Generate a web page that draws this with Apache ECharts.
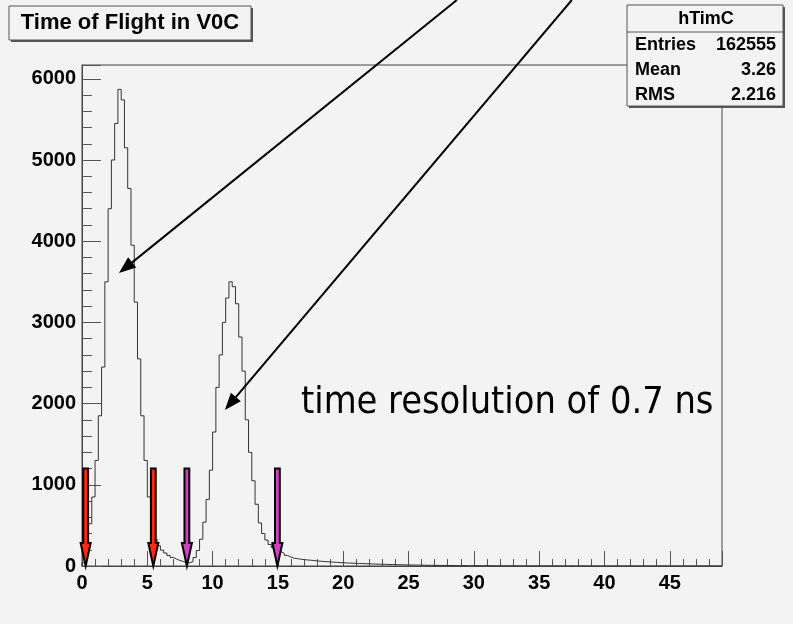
<!DOCTYPE html>
<html><head><meta charset="utf-8">
<script src="https://cdn.jsdelivr.net/npm/echarts@6/dist/echarts.min.js"></script>
<style>html,body{margin:0;padding:0;background:#f3f3f3}#c{width:793px;height:624px}</style>
</head><body><div id="c"></div>
<script>
// ---- data ----
const binWidth = 0.25;      // ns per bin, histogram starts at 0
const countsPeak1 = [      // 0 - 10 ns
  40, 200, 520, 850, 1300, 1850, 2450, 3500, 4400, 5000,
  5450, 5870, 5740, 5150, 4650, 3950, 3250, 2550, 1850, 1300,
  850, 500, 330, 250, 195, 160, 130, 105, 85, 68,
  55, 45, 40, 55, 105, 190, 330, 540, 820, 1180
];
const countsPeak2 = [      // 10 - 20 ns
  1650, 2200, 2600, 3000, 3300, 3500, 3440, 3230, 2820, 2400,
  1800, 1400, 1050, 760, 530, 400, 320, 265, 225, 200,
  175, 155, 130, 110, 96, 90, 84, 79, 75, 71,
  67, 63, 59, 56, 53, 50, 47, 45, 42, 40
];
const countsTail = [       // 20 - 35 ns
  38, 36, 35, 33, 31, 30, 28, 27, 25, 24, 22, 21, 20, 19, 18, 17, 16, 15, 14, 13,
  12, 12, 11, 10, 10, 9, 9, 8, 8, 7, 7, 6, 6, 6, 5, 5, 5, 4, 4, 4,
  4, 3, 3, 3, 3, 3, 2, 2, 2, 2, 2, 2, 2, 1, 1, 1, 1, 1, 1, 1
];
const countsFar = [        // 35 - 49 ns
  1, 1, 1, 1, 1, 1, 0, 1, 0, 1, 0, 0, 1, 0, 0, 0, 1, 0, 0, 0,
  0, 0, 0, 0, 0, 0, 0, 0, 0, 0, 0, 0, 0, 0, 0, 0, 0, 0, 0, 0,
  0, 0, 0, 0, 0, 0, 0, 0, 0, 0, 0, 0, 0, 0, 0, 0
];
const xMin = 0, xMax = 49, yMin = 0, yMax = 6170;
const redArrowX = [0.28, 5.46];
const magentaArrowX = [8.03, 14.96];
const colouredArrowTop = 1200;
const pointerFrom = [[28.7, 6970], [37.5, 6970]];
const pointerTo = [[2.83, 3608], [10.94, 1921]];
const histTitle = 'Time of Flight in V0C';
const statsName = 'hTimC';
const statsLabels = ['Entries', 'Mean', 'RMS'];
const statsValues = ['162555', '3.26', '2.216'];
const noteText = 'time resolution of 0.7 ns';

// ---- build ----
const counts = countsPeak1.concat(countsPeak2, countsTail, countsFar);
const histData = [[0, 0]];
counts.forEach((c, i) => histData.push([i * binWidth, c]));
histData.push([counts.length * binWidth, counts[counts.length - 1]]);
histData.push([counts.length * binWidth, 0]);

const labelFont = {fontFamily: 'Liberation Sans, Arial, sans-serif', fontWeight: 'bold', fontSize: 20, color: '#000'};

function renderFatArrow(params, api) {
  const top = api.coord([api.value(0), api.value(1)]);
  const tip = api.coord([api.value(0), 0]);
  const x = tip[0], hw = 2.4, hh = 5, hl = 23;
  return {
    type: 'polygon',
    shape: {points: [[x - hw, top[1]], [x + hw, top[1]], [x + hw, tip[1] - hl], [x + hh, tip[1] - hl],
                     [x, tip[1]], [x - hh, tip[1] - hl], [x - hw, tip[1] - hl]]},
    style: {fill: api.visual('color'), stroke: '#000', lineWidth: 2, lineJoin: 'miter'}
  };
}
function renderPointer(params, api) {
  const a = api.coord([api.value(0), api.value(1)]);
  const b = api.coord([api.value(2), api.value(3)]);
  const ang = Math.atan2(b[1] - a[1], b[0] - a[0]);
  const L = 17, W = 6.5;
  const bx = b[0] - L * Math.cos(ang), by = b[1] - L * Math.sin(ang);
  const px = -Math.sin(ang), py = Math.cos(ang);
  return {type: 'group', children: [
    {type: 'line', shape: {x1: a[0], y1: a[1], x2: bx + 2 * Math.cos(ang), y2: by + 2 * Math.sin(ang)}, style: {stroke: '#000', lineWidth: 2}},
    {type: 'polygon', shape: {points: [[b[0], b[1]], [bx + px * W, by + py * W], [bx - px * W, by - py * W]]}, style: {fill: '#000'}}
  ]};
}

const chart = echarts.init(document.getElementById('c'), null, {renderer: 'canvas'});
chart.setOption({
  animation: false,
  backgroundColor: '#f3f3f3',
  grid: {left: 82, right: 71, top: 65, bottom: 58, show: true, borderColor: '#444', borderWidth: 1, backgroundColor: 'transparent', outerBoundsMode: 'none', containLabel: false},
  xAxis: {
    type: 'value', min: xMin, max: xMax, interval: 5,
    axisLine: {show: true, lineStyle: {color: '#444', width: 1}},
    axisTick: {show: true, inside: true, length: 15, lineStyle: {color: '#555'}},
    minorTick: {show: true, splitNumber: 5, length: 7, lineStyle: {color: '#555'}},
    splitLine: {show: false}, minorSplitLine: {show: false},
    axisLabel: Object.assign({margin: 7, showMaxLabel: false, formatter: v => (v % 5 === 0 ? String(v) : '')}, labelFont)
  },
  yAxis: {
    type: 'value', min: yMin, max: yMax, interval: 1000,
    axisLine: {show: true, lineStyle: {color: '#444', width: 1}},
    axisTick: {show: true, inside: true, length: 19, lineStyle: {color: '#555'}},
    minorTick: {show: true, splitNumber: 5, length: 10, lineStyle: {color: '#555'}},
    splitLine: {show: false}, minorSplitLine: {show: false},
    axisLabel: Object.assign({margin: 6, showMaxLabel: false, formatter: v => (v % 1000 === 0 ? String(v) : '')}, labelFont)
  },
  series: [
    {type: 'line', data: histData, step: 'end', symbol: 'none', z: 2,
     lineStyle: {color: '#333', width: 1}},
    {type: 'custom', renderItem: renderFatArrow, clip: false, z: 5,
     itemStyle: {color: '#ff2a10'},
     encode: {x: 0, y: 1},
     data: redArrowX.map(x => [x, colouredArrowTop])},
    {type: 'custom', renderItem: renderFatArrow, clip: false, z: 5,
     itemStyle: {color: '#cc44bb'},
     encode: {x: 0, y: 1},
     data: magentaArrowX.map(x => [x, colouredArrowTop])},
    {type: 'custom', renderItem: renderPointer, clip: false, z: 6,
     encode: {x: [0, 2], y: [1, 3]},
     data: pointerFrom.map((p, i) => [p[0], p[1], pointerTo[i][0], pointerTo[i][1]])}
  ],
  graphic: [
    // title box
    {type: 'rect', shape: {x: 11, y: 8, width: 242, height: 34}, style: {fill: '#555'}, z: 10},
    {type: 'rect', shape: {x: 9, y: 6, width: 242, height: 34}, style: {fill: '#f3f3f3', stroke: '#555', lineWidth: 1}, z: 11},
    {type: 'text', x: 130, y: 23, z: 12,
     style: {text: histTitle, fontFamily: 'Liberation Sans, Arial, sans-serif', fontWeight: 'bold', fontSize: 22, fill: '#000', align: 'center', verticalAlign: 'middle'}},
    // stats box
    {type: 'rect', shape: {x: 629, y: 7, width: 156, height: 101}, style: {fill: '#555'}, z: 10},
    {type: 'rect', shape: {x: 627, y: 5, width: 156, height: 101}, style: {fill: '#f3f3f3', stroke: '#555', lineWidth: 1}, z: 11},
    {type: 'line', shape: {x1: 627, y1: 32, x2: 783, y2: 32}, style: {stroke: '#555', lineWidth: 1}, z: 12},
    {type: 'text', x: 706, y: 19, z: 12,
     style: {text: statsName, fontFamily: 'Liberation Sans, Arial, sans-serif', fontWeight: 'bold', fontSize: 18, fill: '#000', align: 'center', verticalAlign: 'middle'}},
    ...statsLabels.map((t, i) => ({type: 'text', x: 635, y: 45 + i * 25, z: 12,
      style: {text: t, fontFamily: 'Liberation Sans, Arial, sans-serif', fontWeight: 'bold', fontSize: 18, fill: '#000', align: 'left', verticalAlign: 'middle'}})),
    ...statsValues.map((t, i) => ({type: 'text', x: 776, y: 45 + i * 25, z: 12,
      style: {text: t, fontFamily: 'Liberation Sans, Arial, sans-serif', fontWeight: 'bold', fontSize: 18, fill: '#000', align: 'right', verticalAlign: 'middle'}})),
    // annotation text
    {type: 'text', x: 301, y: 403, z: 12,
     style: {text: noteText, fontFamily: 'DejaVu Sans Condensed, DejaVu Sans, sans-serif', fontSize: 37.6, fill: '#000', align: 'left', verticalAlign: 'middle'}}
  ]
});
</script></body></html>
